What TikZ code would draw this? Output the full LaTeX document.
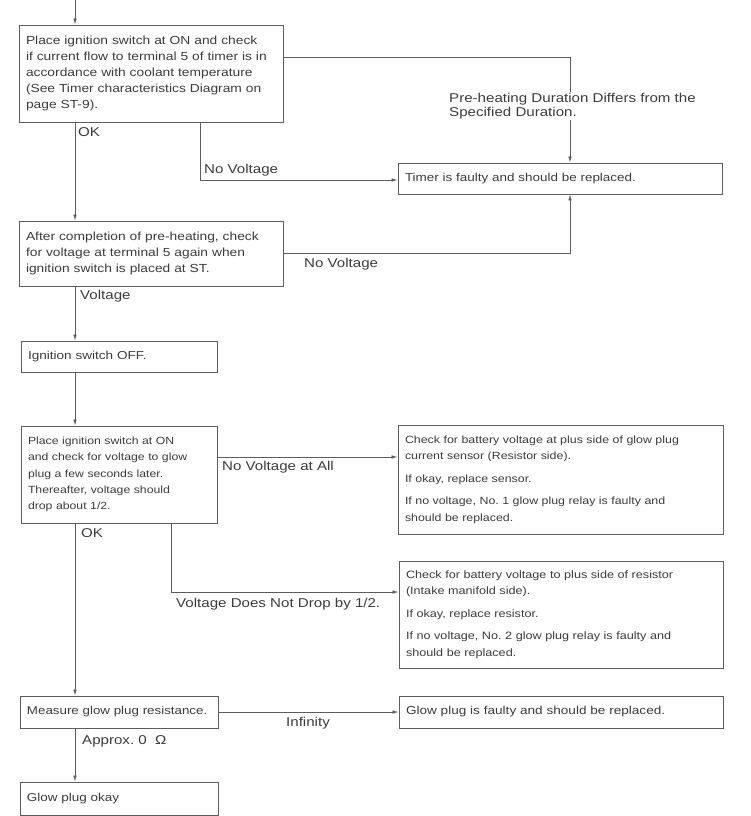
\documentclass[tikz,border=0pt]{standalone}
\usepackage{fontspec}
\setmainfont{Liberation Sans}[FakeStretch=1.18]
\usetikzlibrary{arrows.meta}
\definecolor{ink}{HTML}{3C3C3C}
\definecolor{wire}{HTML}{5C5C5C}
\newcommand{\fs}[1]{\fontsize{#1}{16.2}\selectfont}
\begin{document}
\begin{tikzpicture}[x=1pt,y=-1pt,
  box/.style={draw=wire, line width=0.9pt, text=ink, inner xsep=7pt, inner ysep=0pt,
    align=left, font=\fs{11.2}},
  lbl/.style={text=ink, font=\fontsize{12.8}{14.5}\selectfont, inner sep=1pt, align=left},
  arr/.style={draw=wire, line width=0.7pt, -{Latex[length=6pt,width=3.5pt]}}]
\useasboundingbox[fill=white] (0,0) rectangle (750,816);

% boxes
\node[box, font=\fs{11.7}, text width=250pt, minimum height=97pt] (b1) at (151,73.5)
  {Place ignition switch at ON and check\\ if current flow to terminal 5 of timer is in\\ accordance with coolant temperature\\ (See Timer characteristics Diagram on\\ page ST-9).};
\node[box, font=\fs{11.4}, text width=310pt, minimum height=31pt] (timer) at (560,178.5)
  {Timer is faulty and should be replaced.};
\node[box, font=\fs{11.7}, text width=250pt, minimum height=65pt] (b2) at (151,253.5)
  {After completion of pre-heating, check\\ for voltage at terminal 5 again when\\ ignition switch is placed at ST.};
\node[box, font=\fs{11.5}, text width=182pt, minimum height=31pt] (b3) at (119,356.5)
  {Ignition switch OFF.};
\node[box, font=\fs{10.4}, text width=182pt, minimum height=97pt] (b4) at (119,474.5)
  {Place ignition switch at ON\\ and check for voltage to glow\\ plug a few seconds later.\\ Thereafter, voltage should\\ drop about 1/2.};
\node[box, font=\fs{10.5}, text width=311pt, minimum height=109pt] (b5) at (560.5,479.5)
  {Check for battery voltage at plus side of glow plug\\ current sensor (Resistor side).\\[6.5pt] If okay, replace sensor.\\[6.5pt] If no voltage, No.\ 1 glow plug relay is faulty and\\ should be replaced.};
\node[box, font=\fs{10.7}, text width=310pt, minimum height=107pt] (b6) at (561,614.5)
  {Check for battery voltage to plus side of resistor\\ (Intake manifold side).\\[6.5pt] If okay, replace resistor.\\[6.5pt] If no voltage, No.\ 2 glow plug relay is faulty and\\ should be replaced.};
\node[box, font=\fs{11.3}, text width=184pt, minimum height=32pt] (b7) at (119,712)
  {Measure glow plug resistance.};
\node[box, font=\fs{11.5}, text width=310pt, minimum height=32pt] (b8) at (561,712)
  {Glow plug is faulty and should be replaced.};
\node[box, font=\fs{11.4}, text width=184pt, minimum height=33pt] (b9) at (119,798.5)
  {Glow plug okay};

% helper coordinates
\coordinate (top) at (75,0);
\coordinate (vx) at (570,0);
\coordinate (xa) at (200,0);
\coordinate (xb) at (171,0);
\coordinate (y57) at (0,57);
\coordinate (y180) at (0,180);
\coordinate (y457) at (0,457);
\coordinate (y592) at (0,592);

% connectors
\draw[arr] (top) -- (b1.north -| top);
\draw[arr] (b1.south -| top) -- (b2.north -| top);
\draw[arr] (b1.east |- y57) -| (timer.north -| vx);
\draw[arr] (b1.south -| xa) |- (timer.west |- y180);
\draw[arr] (b2.east) -| (timer.south -| vx);
\draw[arr] (b2.south -| top) -- (b3.north -| top);
\draw[arr] (b3.south -| top) -- (b4.north -| top);
\draw[arr] (b4.east |- y457) -- (b5.west |- y457);
\draw[arr] (b4.south -| xb) |- (b6.west |- y592);
\draw[arr] (b4.south -| top) -- (b7.north -| top);
\draw[arr] (b7.east) -- (b8.west);
\draw[arr] (b7.south -| top) -- (b9.north -| top);

% labels
\node[lbl, anchor=west, fill=white] (lpre) at (448,106)
  {Pre-heating Duration Differs from the\\ Specified Duration.};
\node[lbl, anchor=west] (lok1) at (77,132) {OK};
\node[lbl, anchor=west] (lnv1) at (203,170) {No Voltage};
\node[lbl, anchor=west] (lnv2) at (303,264) {No Voltage};
\node[lbl, anchor=west] (lvolt) at (79,296) {Voltage};
\node[lbl, anchor=west] (lnva) at (221,467) {No Voltage at All};
\node[lbl, anchor=west] (lok2) at (80,533) {OK};
\node[lbl, anchor=west] (ldrop) at (175,604) {Voltage Does Not Drop by 1/2.};
\node[lbl, anchor=center] (linf) at (308,723) {Infinity};
\node[lbl, anchor=west] (lappr) at (81,741) {Approx.\ 0 \ Ω};
\end{tikzpicture}
\end{document}
